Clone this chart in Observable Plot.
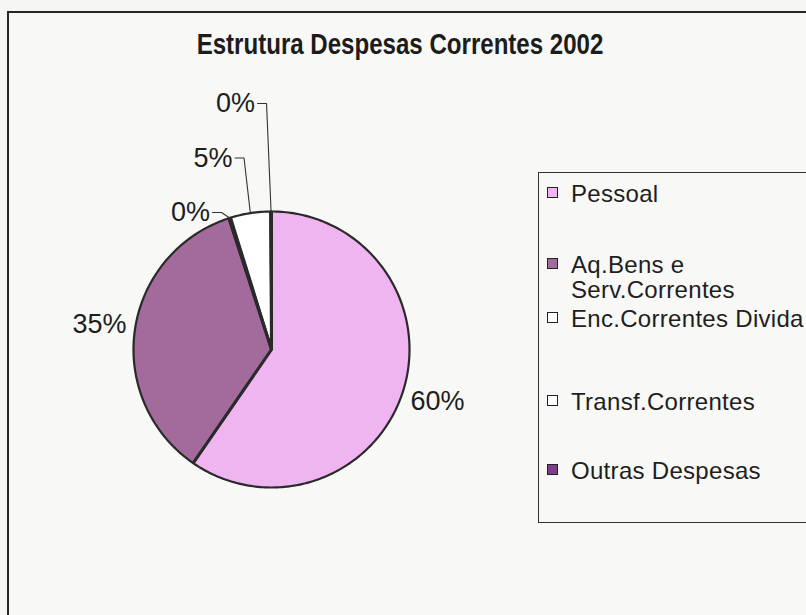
<!DOCTYPE html>
<html>
<head>
<meta charset="utf-8">
<script src="https://cdn.jsdelivr.net/npm/d3@7"></script>
<script src="https://cdn.jsdelivr.net/npm/@observablehq/plot@0.6"></script>
<style>
  html, body { margin: 0; padding: 0; }
  body { width: 806px; height: 615px; overflow: hidden; background: #f6f6f4; position: relative; font-family: "Liberation Sans", Arial, sans-serif; color: #1e1e1e; }
  #frame { position: absolute; left: 7px; top: 11px; width: 900px; height: 700px; border: 2px solid #262626; box-sizing: border-box; background: #f8f8f6; }
  #title { position: absolute; left: 0; top: 30px; width: 800px; text-align: center; font-family: "Liberation Sans", Arial, sans-serif; font-weight: bold; font-size: 29px; line-height: 29px; color: #1c1c1c; }
  #title span { display: inline-block; transform: scaleX(0.83); transform-origin: center; white-space: nowrap; }
  #chart { position: absolute; left: 0; top: 0; }
  #legend { position: absolute; left: 538px; top: 172px; width: 400px; height: 351px; border: 1.5px solid #333; box-sizing: border-box; }
  .lg-row { position: absolute; left: 571px; font-size: 24px; line-height: 25px; letter-spacing: 0.3px; white-space: nowrap; color: #1e1e1e; }
  .lg-sw { position: absolute; left: 547px; width: 11px; height: 11px; border: 1.5px solid #222; box-sizing: border-box; }
</style>
</head>
<body>
<div id="frame"></div>
<div id="chart"></div>
<div id="title"><span></span></div>
<div id="legend"></div>
<script>
// ---- data ----
const titleText = "Estrutura Despesas Correntes 2002";
const categories = ["Pessoal", "Aq.Bens e Serv.Correntes", "Enc.Correntes Divida", "Transf.Correntes", "Outras Despesas"];
const legendLines = [["Pessoal"], ["Aq.Bens e", "Serv.Correntes"], ["Enc.Correntes Divida"], ["Transf.Correntes"], ["Outras Despesas"]];
const shares = [59.6, 35.4, 0.2, 4.7, 0.1];
const sliceColors = ["#efb5f1", "#a36b9b", "#ffffff", "#ffffff", "#7c3e8b"];

// ---- layout ----
const cx = 271, cy = 349, R = 138;
const bigLabelRadius = 1.26;
const smallLabelStart = {x: -0.587, y: 0.993}, smallLabelStep = {dx: 0.163, dy: 0.395};
const legendBaselines = [202, 273, 327, 410, 479];

document.querySelector("#title span").textContent = titleText;

const arcs = d3.pie().sort(null).value(d => d)(shares).map((a, i) => ({
  ...a, name: categories[i], share: shares[i], label: Math.round(shares[i]) + "%",
  mid: (a.startAngle + a.endAngle) / 2
}));

// slice outlines sampled along arc
const slicePts = [];
for (const a of arcs) {
  slicePts.push({name: a.name, x: 0, y: 0});
  const n = Math.max(2, Math.ceil((a.endAngle - a.startAngle) / (Math.PI / 180)));
  for (let k = 0; k <= n; k++) {
    const t = a.startAngle + (a.endAngle - a.startAngle) * k / n;
    slicePts.push({name: a.name, x: Math.sin(t), y: Math.cos(t)});
  }
}

const big = arcs.filter(a => a.share >= 10);
const small = arcs.filter(a => a.share < 10).map((a, k) => ({
  ...a, lx: smallLabelStart.x + smallLabelStep.dx * k, ly: smallLabelStart.y + smallLabelStep.dy * k
}));
const leaderPts = [];
for (const s of small) {
  leaderPts.push({name: s.name, x: s.lx + 0.16, y: s.ly});
  leaderPts.push({name: s.name, x: s.lx + 0.225, y: s.ly});
  leaderPts.push({name: s.name, x: Math.sin(s.mid), y: Math.cos(s.mid)});
}

const plot = Plot.plot({
  width: 806, height: 615, margin: 0,
  style: {background: "transparent", overflow: "visible"},
  x: {domain: [-1, 1], range: [cx - R, cx + R], axis: null},
  y: {domain: [-1, 1], range: [cy + R, cy - R], axis: null},
  color: {domain: categories, range: sliceColors},
  marks: [
    Plot.line(slicePts, {x: "x", y: "y", z: "name", fill: "name", stroke: "#2a2a2a", strokeWidth: 2.2, curve: "linear-closed"}),
    Plot.link(arcs, {x1: d => 0, y1: d => 0, x2: d => Math.sin(d.startAngle), y2: d => Math.cos(d.startAngle), stroke: "#2a2a2a", strokeWidth: 3}),
    Plot.line(leaderPts, {x: "x", y: "y", z: "name", stroke: "#333", strokeWidth: 1.1}),
    Plot.text(big, {x: d => bigLabelRadius * Math.sin(d.mid), y: d => bigLabelRadius * Math.cos(d.mid), text: "label", fontSize: 27, fontFamily: "Liberation Sans, Arial, sans-serif", fill: "#1e1e1e"}),
    Plot.text(small, {x: "lx", y: "ly", text: "label", fontSize: 27, fontFamily: "Liberation Sans, Arial, sans-serif", fill: "#1e1e1e"})
  ]
});
document.getElementById("chart").appendChild(plot);

// legend
const body = document.body;
categories.forEach((c, i) => {
  const sw = document.createElement("div");
  sw.className = "lg-sw";
  sw.style.top = (legendBaselines[i] - 15) + "px";
  sw.style.background = sliceColors[i];
  body.appendChild(sw);
  const row = document.createElement("div");
  row.className = "lg-row";
  row.style.top = (legendBaselines[i] - 20.8) + "px";
  row.innerHTML = legendLines[i].join("<br>");
  body.appendChild(row);
});
</script>
</body>
</html>
